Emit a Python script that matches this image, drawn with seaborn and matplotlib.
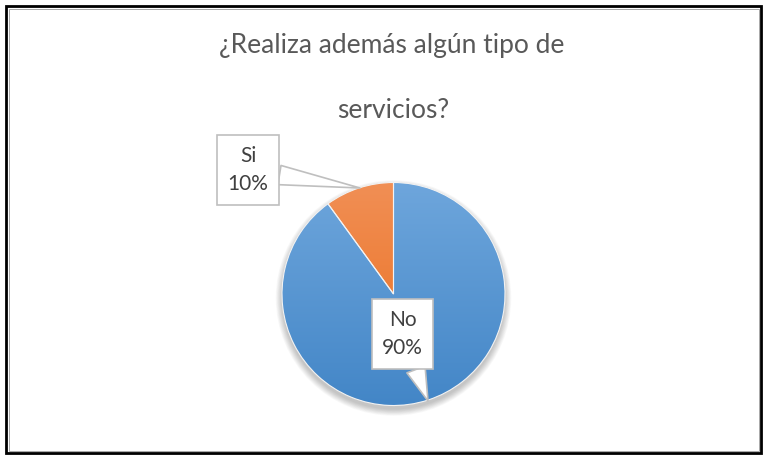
import numpy as np
import seaborn as sns
import matplotlib.pyplot as plt
from matplotlib.colors import LinearSegmentedColormap
from matplotlib.patches import Circle, Rectangle

# data
categories = ["No", "Si"]
values = [90, 10]
title_lines = ["¿Realiza además algún tipo de", "servicios?"]

# slice colours: (bottom, top) of the vertical gradient
slice_colors = [("#4386c7", "#6ea6dc"), ("#e96c1a", "#f18f55")]

sns.set_theme(style="white")
plt.rcParams['font.family'] = ['Lato', 'DejaVu Sans']

W, H = 767, 455
fig = plt.figure(figsize=(W / 100, H / 100), dpi=100)
ax = fig.add_axes([0, 0, 1, 1])

# pie geometry in pixel units (y measured upwards)
cx, cy, r = 393.5, H - 294, 111.5

# soft shadow under the pie
for i in range(10):
    ax.add_patch(Circle((cx, cy - 4), r + i * 0.7, color="black",
                        alpha=0.025, lw=0, zorder=1))

wedges, _ = ax.pie(values, startangle=90, counterclock=False,
                   center=(cx, cy), radius=r,
                   wedgeprops=dict(edgecolor="#f2f2f2", linewidth=0.8))

grad = np.linspace(0, 1, 256).reshape(-1, 1)
for w, (c0, c1) in zip(wedges, slice_colors):
    w.set_facecolor("none")
    w.set_zorder(3)
    cmap = LinearSegmentedColormap.from_list("g", [c0, c1])
    im = ax.imshow(grad, cmap=cmap, origin="lower", aspect="auto",
                   extent=[cx - r, cx + r, cy - r, cy + r], zorder=2)
    im.set_clip_path(w)

# callout labels
total = sum(values)
labels = [f"{c}\n{v / total * 100:.0f}%" for c, v in zip(categories, values)]
label_pos = [(402.5, H - 334), (248, H - 170)]
tips = [(428, H - 401), (360, H - 188)]

for lab, pos, tip in zip(labels, label_pos, tips):
    ax.annotate(lab, xy=tip, xytext=pos, ha="center", va="center",
                fontsize=15, color="#404040", linespacing=1.55,
                bbox=dict(boxstyle="square,pad=0.5", fc="white",
                          ec="#bfbfbf", lw=1.2),
                arrowprops=dict(arrowstyle="wedge,tail_width=0.7",
                                fc="white", ec="#bfbfbf", lw=1.2,
                                shrinkA=0, shrinkB=0, mutation_scale=20),
                zorder=5)

# title
ax.text(392, H - 45, title_lines[0], ha="center", va="center",
        fontsize=19, color="#595959")
ax.text(393, H - 110, title_lines[1], ha="center", va="center",
        fontsize=19, color="#595959")

# outer border
ax.add_patch(Rectangle((6, 2), W - 12, H - 8, fill=False, ec="black",
                       lw=2, zorder=6))
ax.add_patch(Rectangle((8.5, 4.5), W - 17, H - 13, fill=False, ec="#9a9a9a",
                       lw=0.6, zorder=6))

ax.set_xlim(0, W)
ax.set_ylim(0, H)
ax.set_aspect("equal")
ax.axis("off")

fig.savefig("out.png", dpi=100)
